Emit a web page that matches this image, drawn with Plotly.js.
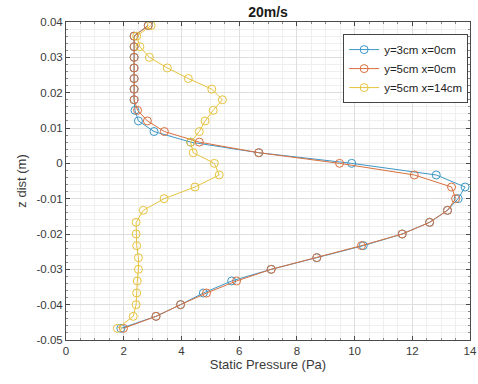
<!DOCTYPE html>
<html>
<head>
<meta charset="utf-8">
<script src="https://cdn.plot.ly/plotly-3.0.1.min.js"></script>
<style>html,body{margin:0;padding:0;background:#fff;}#chart{width:478px;height:384px;}</style>
</head>
<body>
<div id="chart"></div>
<script>
// z positions (m)
const zDist = [0.039, 0.036, 0.033, 0.030, 0.027, 0.024, 0.021, 0.018, 0.015, 0.012, 0.009, 0.006, 0.003, 0,
  -0.0033, -0.0067, -0.0100, -0.0133, -0.0167, -0.0200, -0.0233, -0.0267, -0.0300, -0.0333, -0.0367, -0.0400, -0.0433, -0.0467];

// Static pressure (Pa)
const pY3X0 = [2.85, 2.36, 2.36, 2.36, 2.36, 2.36, 2.36, 2.36, 2.39, 2.51, 3.05, 4.32, 6.68, 9.90,
  12.83, 13.83, 13.59, 13.22, 12.60, 11.65, 10.30, 8.69, 7.11, 5.74, 4.76, 3.97, 3.12, 1.90];
const pY5X0 = [2.85, 2.36, 2.36, 2.36, 2.36, 2.36, 2.36, 2.36, 2.48, 2.82, 3.41, 4.62, 6.68, 9.48,
  12.07, 13.36, 13.50, 13.22, 12.60, 11.65, 10.24, 8.69, 7.11, 5.91, 4.87, 3.97, 3.12, 1.99];
const pY5X14 = [2.95, 2.45, 2.56, 2.89, 3.51, 4.24, 5.05, 5.42, 5.10, 4.82, 4.62, 4.32, 4.41, 5.14,
  5.31, 4.47, 3.40, 2.68, 2.43, 2.43, 2.45, 2.51, 2.51, 2.47, 2.45, 2.43, 2.33, 1.78];

const seriesNames = ['y=3cm x=0cm', 'y=5cm x=0cm', 'y=5cm x=14cm'];
const seriesColors = ['#3d97c6', '#d9703e', '#e6c33e'];

const xTickVals = [0, 2, 4, 6, 8, 10, 12, 14];
const yTickVals = [0.04, 0.03, 0.02, 0.01, 0, -0.01, -0.02, -0.03, -0.04, -0.05];
const yTickText = ['0.04', '0.03', '0.02', '0.01', '0', '-0.01', '-0.02', '-0.03', '-0.04', '-0.05'];

const allSeries = [pY3X0, pY5X0, pY5X14];
const traces = allSeries.map((vals, i) => ({
  type: 'scatter',
  mode: 'lines+markers',
  x: vals,
  y: zDist,
  name: seriesNames[i],
  line: {color: seriesColors[i], width: 1},
  marker: {symbol: 'circle-open', size: 8, color: seriesColors[i], line: {width: 1}}
}));

const axisCommon = {
  showline: true, mirror: 'ticks', linecolor: '#4a4a4a', linewidth: 1,
  ticks: 'inside', ticklen: 4, tickcolor: '#4a4a4a',
  showgrid: true, gridcolor: '#dedede', gridwidth: 1,
  zeroline: false,
  tickfont: {family: 'Liberation Sans, Arial, sans-serif', size: 11.5, color: '#3a3a3a'}
};

const layout = {
  width: 478, height: 384,
  margin: {l: 66, r: 8, t: 22, b: 44},
  paper_bgcolor: '#fff', plot_bgcolor: '#fff',
  font: {family: 'Liberation Sans, Arial, sans-serif', color: '#3a3a3a'},
  title: {text: '<b>20m/s</b>', x: 0.5, xref: 'paper', xanchor: 'center', y: 0.982, yanchor: 'top',
    font: {size: 14, color: '#1a1a1a'}},
  xaxis: Object.assign({}, axisCommon, {
    range: [0, 14], tickvals: xTickVals,
    minor: {dtick: 0.5, showgrid: true, gridcolor: '#efefef', ticks: 'inside', ticklen: 2, tickcolor: '#888'},
    title: {text: 'Static Pressure (Pa)', standoff: 4, font: {size: 13, color: '#3a3a3a'}}
  }),
  yaxis: Object.assign({}, axisCommon, {
    range: [-0.05, 0.04], tickvals: yTickVals, ticktext: yTickText,
    minor: {dtick: 0.002, showgrid: true, gridcolor: '#efefef', ticks: 'inside', ticklen: 2, tickcolor: '#888'},
    title: {text: 'z dist (m)', standoff: 6, font: {size: 13, color: '#3a3a3a'}}
  }),
  legend: {
    x: 0.686, y: 0.962, xanchor: 'left', yanchor: 'top',
    bgcolor: '#fff', bordercolor: '#444', borderwidth: 1,
    font: {size: 11.5, color: '#222'},
    tracegroupgap: 0, itemwidth: 30
  },
  showlegend: true
};

Plotly.newPlot('chart', traces, layout, {displayModeBar: false, staticPlot: true});
</script>
</body>
</html>
